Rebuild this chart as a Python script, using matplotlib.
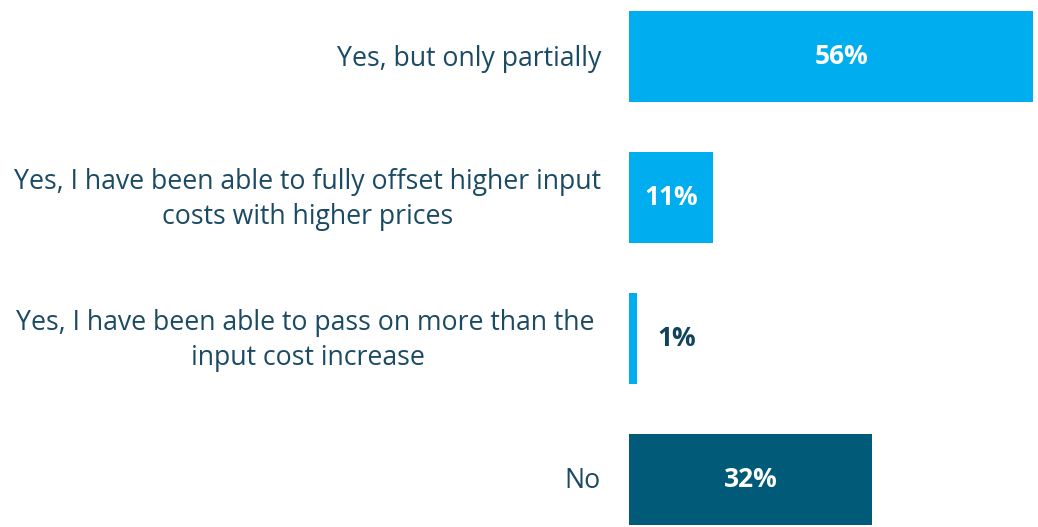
import matplotlib
matplotlib.use("Agg")
import matplotlib.pyplot as plt
import numpy as np

plt.rcParams['font.family'] = ['Open Sans', 'DejaVu Sans']

categories = [
    "Yes, but only partially",
    "Yes, I have been able to fully offset higher input\ncosts with higher prices",
    "Yes, I have been able to pass on more than the \ninput cost increase",
    "No",
]
values = [56, 11, 1, 32]
bar_colors = ['#00AEEF', '#00AEEF', '#00AEEF', '#005A78']

text_color = '#1B4A64'

fig = plt.figure(figsize=(10.38, 5.27), dpi=100)
ax = fig.add_axes([629 / 1038, 0, 404 / 1038, 1])

y = np.arange(len(categories))
ax.barh(y, values, height=0.645, color=bar_colors)
ax.set_xlim(0, 53.2)
ax.set_ylim(3 + 47.5 / 141, -56.5 / 141)
ax.axis('off')

# category labels sit to the left of the bars
for yi, cat in zip(y, categories):
    ax.annotate(cat, xy=(0, yi), xycoords=('axes fraction', 'data'),
                xytext=(-28, -2), textcoords='offset pixels',
                ha='right', va='center', multialignment='center',
                fontsize=19.2, color=text_color, linespacing=1.3)

# percentages: inside wide bars, just right of the thin one
for yi, v in zip(y, values):
    if v >= 5:
        ax.text(v / 2, yi, f"{v}%", ha='center', va='center',
                fontsize=19, fontweight='bold', color='white')
    else:
        ax.annotate(f"{v}%", xy=(v, yi), xytext=(21, 0),
                    textcoords='offset pixels', ha='left', va='center',
                    fontsize=19, fontweight='bold', color='#12425C')

fig.savefig("out.png", dpi=100)
